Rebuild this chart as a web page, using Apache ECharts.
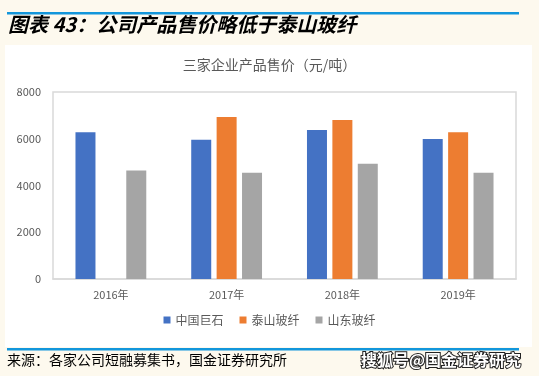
<!DOCTYPE html>
<html><head><meta charset="utf-8">
<script src="https://cdn.jsdelivr.net/npm/echarts@6/dist/echarts.min.js"></script>
<style>html,body{margin:0;padding:0;background:#fdf9ee;}#c{width:539px;height:376px;}</style>
</head><body><div id="c"></div>
<script>
var categories = ['2016年','2017年','2018年','2019年'];
var jushi = [6280, 5960, 6370, 5990];
var taishan = [null, 6930, 6800, 6280];
var shandong = [4640, 4550, 4930, 4550];
var seriesNames = ['中国巨石','泰山玻纤','山东玻纤'];
var colors = ['#4472c4','#ed7d31','#a5a5a5'];
var yTicks = {min:0, max:8000, interval:2000};

var chart = echarts.init(document.getElementById('c'));
var font = '"Noto Sans CJK SC", "DejaVu Sans", sans-serif';
function bar(name, data, color){
  return {name:name, type:'bar', data:data, barWidth:20, barGap:'27%',
    itemStyle:{color:color}};
}
chart.setOption({
  backgroundColor:'#fdf9ee',
  animation:false,
  color:colors,
  graphic:[
    {type:'rect', shape:{x:5,y:45,width:527,height:302}, style:{fill:'#ffffff'}, z:-10},
    {type:'rect', shape:{x:7,y:12,width:512,height:2.5}, style:{fill:'#1296db'}},
    {type:'rect', shape:{x:7,y:348,width:512,height:2.5}, style:{fill:'#1296db'}},
    {type:'text', left:8, top:14, style:{text:'图表 43：公司产品售价略低于泰山玻纤', fill:'#000', font:'italic bold 20px "Noto Sans CJK SC", sans-serif'}},
    {type:'text', left:7, top:353, style:{text:'来源：各家公司短融募集书，国金证券研究所', fill:'#000', font:'14px "Noto Sans CJK SC", sans-serif'}},
    {type:'text', left:360, top:351, style:{text:'搜狐号@国金证券研究', fill:'#fff', stroke:'#222', lineWidth:2, font:'bold 16px "Noto Sans CJK SC", sans-serif'}}
  ],
  title:{text:'三家企业产品售价（元/吨）', left:'center', top:53,
    textStyle:{fontSize:14, fontWeight:'normal', color:'#595959', fontFamily:font}},
  legend:{data:seriesNames, bottom:45, left:'center', itemWidth:7, itemHeight:7, itemGap:16,
    icon:'rect', textStyle:{fontSize:12, color:'#595959', fontFamily:font}},
  grid:{left:53, right:23, top:92, bottom:97, show:true, borderColor:'#d9d9d9', borderWidth:1.5},
  xAxis:{type:'category', data:categories,
    axisLine:{lineStyle:{color:'#d9d9d9', width:1.5}}, axisTick:{show:false},
    axisLabel:{fontSize:11, color:'#595959', fontFamily:font, margin:10}},
  yAxis:{type:'value', min:yTicks.min, max:yTicks.max, interval:yTicks.interval,
    splitLine:{show:false}, axisLine:{show:false}, axisTick:{show:false},
    axisLabel:{fontSize:11, color:'#595959', fontFamily:font, margin:12, formatter:function(v){return String(v);}}},
  series:[bar(seriesNames[0], jushi, colors[0]), bar(seriesNames[1], taishan, colors[1]), bar(seriesNames[2], shandong, colors[2])]
});
</script></body></html>
